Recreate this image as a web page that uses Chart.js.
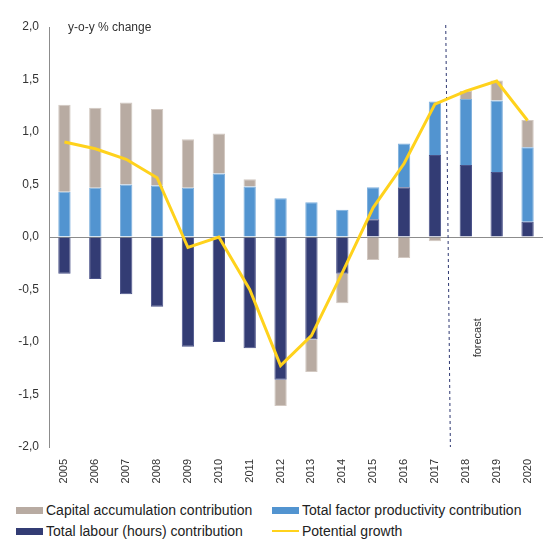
<!DOCTYPE html>
<html>
<head>
<meta charset="utf-8">
<script src="https://cdn.jsdelivr.net/npm/chart.js@4/dist/chart.umd.min.js"></script>
<style>
    html, body { margin: 0; padding: 0; background: #fff; }
    body { width: 555px; height: 542px; position: relative; overflow: hidden; font-family: "Liberation Sans", Arial, sans-serif; }
    #wrap { position: absolute; left: 0; top: 0; width: 555px; height: 490px; }
    .legend-item { position: absolute; font-size: 14px; color: #222; white-space: nowrap; line-height: 16px; }
    .legend-item .swatch { position: absolute; left: 0; top: 5px; width: 27px; height: 7px; }
    .legend-item .label { position: absolute; left: 30px; top: 0; }
</style>
</head>
<body>
<div id="wrap"><canvas id="chart" width="555" height="490"></canvas></div>
<div id="legend"></div>
<script>
// Chart data
const years = ['2005', '2006', '2007', '2008', '2009', '2010', '2011', '2012',
               '2013', '2014', '2015', '2016', '2017', '2018', '2019', '2020'];
const labourContribution  = [-0.35, -0.40, -0.545, -0.665, -1.045, -1.00, -1.06, -1.36,
                             -0.975, -0.35, 0.17, 0.475, 0.78, 0.685, 0.62, 0.145];
const tfpContribution     = [0.43, 0.47, 0.50, 0.49, 0.47, 0.605, 0.48, 0.37,
                             0.33, 0.26, 0.305, 0.415, 0.51, 0.63, 0.68, 0.71];
const capitalContribution = [0.83, 0.76, 0.78, 0.73, 0.46, 0.38, 0.07, -0.25,
                             -0.31, -0.28, -0.22, -0.20, -0.04, 0.075, 0.19, 0.26];
const potentialGrowth     = [0.905, 0.84, 0.74, 0.565, -0.10, 0.00, -0.50, -1.225,
                             -0.94, -0.34, 0.28, 0.70, 1.265, 1.39, 1.485, 1.11];
const forecastStart = '2018';

const colors = {
    capital: '#b8aba2',
    tfp: '#5294d0',
    labour: '#333c74',
    potential: '#ffd21c',
    axis: '#8c8c8c',
    text: '#333333'
};

// Legend order differs from stacking order
const legendOrder = [
    { label: 'Capital accumulation contribution', color: colors.capital, type: 'box' },
    { label: 'Total factor productivity contribution', color: colors.tfp, type: 'box' },
    { label: 'Total labour (hours) contribution', color: colors.labour, type: 'box' },
    { label: 'Potential growth', color: colors.potential, type: 'line' }
];

// Annotations: axis caption and forecast divider
const annotations = {
    id: 'annotations',
    beforeDatasetsDraw(chart) {
        const { ctx, chartArea, scales } = chart;
        const idx = years.indexOf(forecastStart);
        const xBottom = scales.x.getPixelForValue(idx - 0.5);
        const xTop = scales.x.getPixelForValue(idx - 0.65);
        ctx.save();
        ctx.strokeStyle = '#2c3670';
        ctx.lineWidth = 1;
        ctx.setLineDash([3, 3]);
        ctx.beginPath();
        ctx.moveTo(xTop, chartArea.top - 2);
        ctx.lineTo(xBottom, chartArea.bottom);
        ctx.stroke();
        ctx.restore();
    },
    afterDraw(chart) {
        const { ctx, chartArea, scales } = chart;
        ctx.save();
        ctx.fillStyle = colors.text;
        ctx.font = '12px "Liberation Sans", Arial, sans-serif';
        ctx.textBaseline = 'middle';
        ctx.fillText('y-o-y % change', chartArea.left + 19, chartArea.top + 1);

        const idx = years.indexOf(forecastStart);
        const x = scales.x.getPixelForValue(idx) + 12;
        const y = scales.y.getPixelForValue(-0.96);
        ctx.translate(x, y);
        ctx.rotate(-Math.PI / 2);
        ctx.font = '11px "Liberation Sans", Arial, sans-serif';
        ctx.textAlign = 'center';
        ctx.fillText('forecast', 0, 0);
        ctx.restore();
    }
};

function buildLegend() {
    const legend = document.getElementById('legend');
    const cols = [16, 272];
    const rows = [502, 523];
    legendOrder.forEach((item, i) => {
        const el = document.createElement('div');
        el.className = 'legend-item';
        el.style.left = cols[i % 2] + 'px';
        el.style.top = rows[Math.floor(i / 2)] + 'px';
        const sw = document.createElement('span');
        sw.className = 'swatch';
        sw.style.background = item.color;
        if (item.type === 'line') {
            sw.style.height = '2px';
            sw.style.top = '7px';
        }
        const tx = document.createElement('span');
        tx.className = 'label';
        tx.textContent = item.label;
        el.appendChild(sw);
        el.appendChild(tx);
        legend.appendChild(el);
    });
}

const barStyle = {
    type: 'bar',
    borderWidth: 1,
    barPercentage: 0.4,
    categoryPercentage: 1,
    order: 1
};

const ctx = document.getElementById('chart').getContext('2d');
new Chart(ctx, {
    data: {
        labels: years,
        datasets: [
            Object.assign({}, barStyle, {
                label: 'Total labour (hours) contribution',
                data: labourContribution,
                backgroundColor: colors.labour,
                borderColor: '#4a5289'
            }),
            Object.assign({}, barStyle, {
                label: 'Total factor productivity contribution',
                data: tfpContribution,
                backgroundColor: colors.tfp,
                borderColor: '#7fb0dd'
            }),
            Object.assign({}, barStyle, {
                label: 'Capital accumulation contribution',
                data: capitalContribution,
                backgroundColor: colors.capital,
                borderColor: '#d2c8c1'
            }),
            {
                type: 'line',
                label: 'Potential growth',
                data: potentialGrowth,
                borderColor: colors.potential,
                borderWidth: 3,
                pointRadius: 0,
                tension: 0,
                fill: false,
                order: 0
            }
        ]
    },
    options: {
        responsive: false,
        animation: false,
        layout: { padding: { top: 27, right: 12, left: 0, bottom: 0 } },
        plugins: {
            legend: { display: false },
            tooltip: { enabled: false }
        },
        scales: {
            x: {
                stacked: true,
                grid: { display: false },
                border: { display: false },
                ticks: {
                    color: colors.text,
                    font: { size: 11, family: '"Liberation Sans", Arial, sans-serif' },
                    minRotation: 90,
                    maxRotation: 90,
                    padding: 4,
                    autoSkip: false
                },
                afterFit(scale) { scale.height = 43; }
            },
            y: {
                stacked: true,
                min: -2,
                max: 2,
                border: { display: true, color: colors.axis, width: 1 },
                grid: {
                    drawTicks: false,
                    color: (c) => (c.tick && c.tick.value === 0 ? colors.axis : 'rgba(0,0,0,0)'),
                    lineWidth: 1
                },
                ticks: {
                    stepSize: 0.5,
                    padding: 10,
                    color: colors.text,
                    font: { size: 12, family: '"Liberation Sans", Arial, sans-serif' },
                    callback: (v) => Number(v).toFixed(1).replace('.', ',')
                },
                afterFit(scale) { scale.width = 49; }
            }
        }
    },
    plugins: [annotations]
});

buildLegend();
</script>
</body>
</html>
